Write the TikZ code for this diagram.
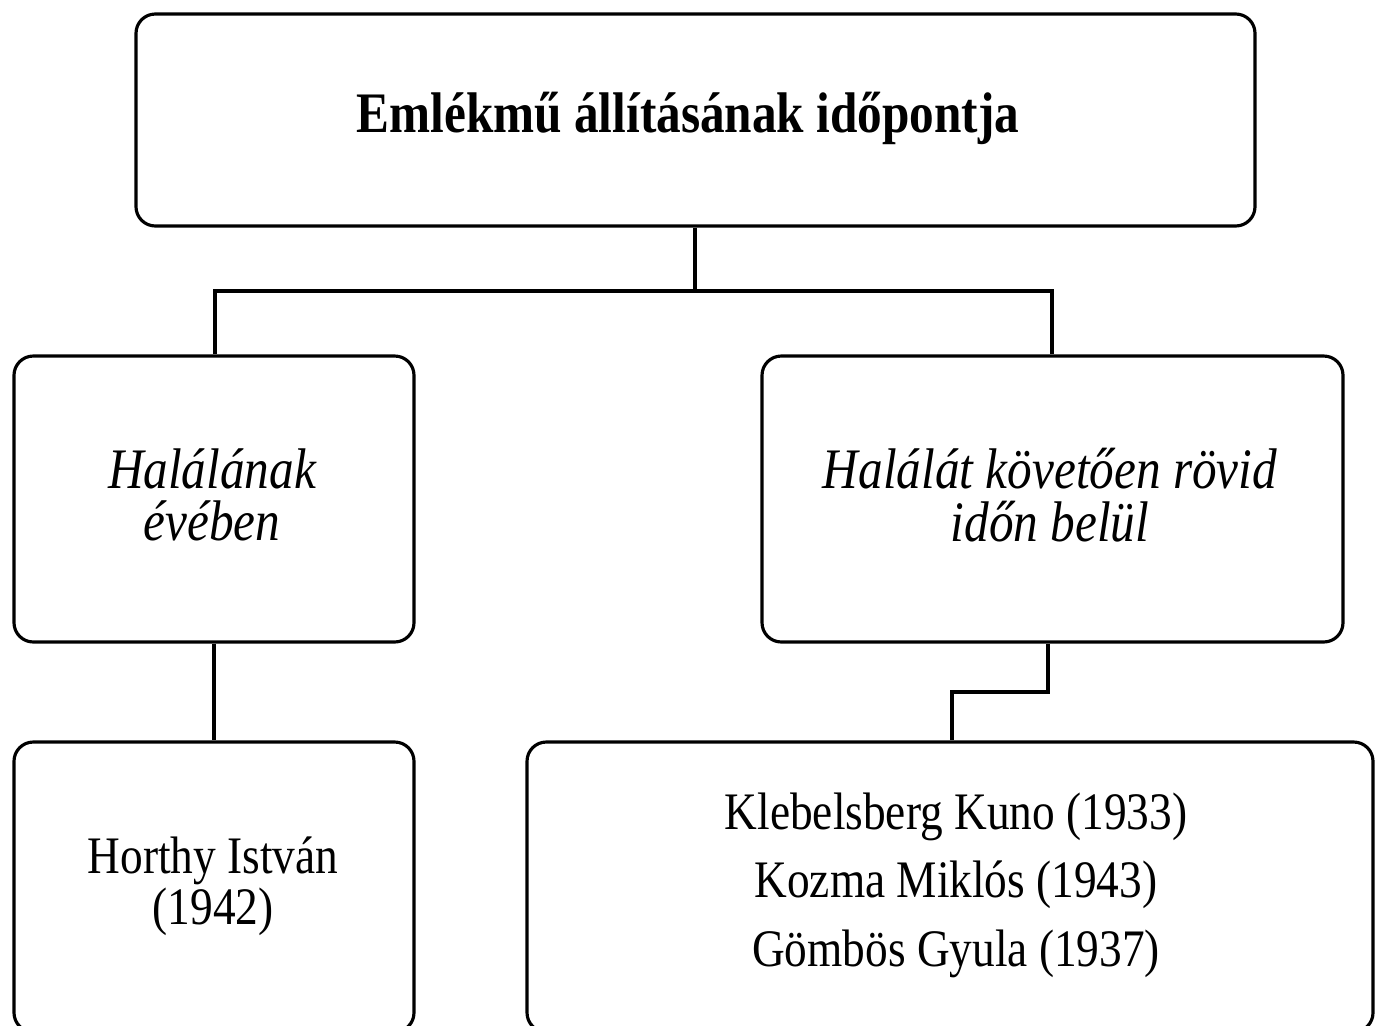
\documentclass[tikz,border=0pt]{standalone}
\usepackage{fontspec}
\setmainfont{Liberation Serif}[FakeStretch=0.86]
\tikzset{
  box/.style={draw, line width=1.8pt, rounded corners=11pt, fill=white, align=center, inner sep=0pt},
  conn/.style={draw, line width=1.8pt},
  ttl/.style={font=\fontsize{32.6}{36}\selectfont\bfseries, align=center},
  itl/.style={font=\fontsize{32.6}{30}\selectfont\itshape, align=center},
  reg/.style={font=\fontsize{30}{29}\selectfont, align=center},
}
\begin{document}
\begin{tikzpicture}[x=0.02cm, y=-0.02cm]
\useasboundingbox (0,0) rectangle (1375,1025);
\node[box, minimum width=1119*0.02cm, minimum height=212*0.02cm] (top) at (695.5,120) {};
\node[ttl] (toptext) at (688,118) {Emlékmű állításának időpontja};
\node[box, minimum width=400*0.02cm, minimum height=286*0.02cm] (lm) at (214,499) {};
\node[itl] (lmtext) at (212,495) {Halálának\\évében};
\node[box, minimum width=581*0.02cm, minimum height=286*0.02cm] (rm) at (1052.5,499) {};
\node[itl] (rmtext) at (1050,495) {Halálát követően rövid\\időn belül};
\node[box, minimum width=400*0.02cm, minimum height=290*0.02cm] (lb) at (214,887) {};
\node[reg] (lbtext) at (213,886) {Horthy István\\(1942)};
\node[box, minimum width=846*0.02cm, minimum height=290*0.02cm] (rb) at (950,887) {};
\node[reg] (rbtext) at (956,885) {Klebelsberg Kuno (1933)\\[10pt]Kozma Miklós (1943)\\[10pt]Gömbös Gyula (1937)};
\coordinate (j1) at (695,291);
\coordinate (jr) at (1048,692);
\draw[conn] (top.south -| j1) -- (j1);
\draw[conn] (lm.north -| 215,0) |- (j1) -| (rm.north -| 1052,0);
\draw[conn] (lm.south -| 214,0) -- (lb.north -| 214,0);
\draw[conn] (rm.south -| jr) -- (jr) -| (rb.north -| 952,0);
\end{tikzpicture}
\end{document}
